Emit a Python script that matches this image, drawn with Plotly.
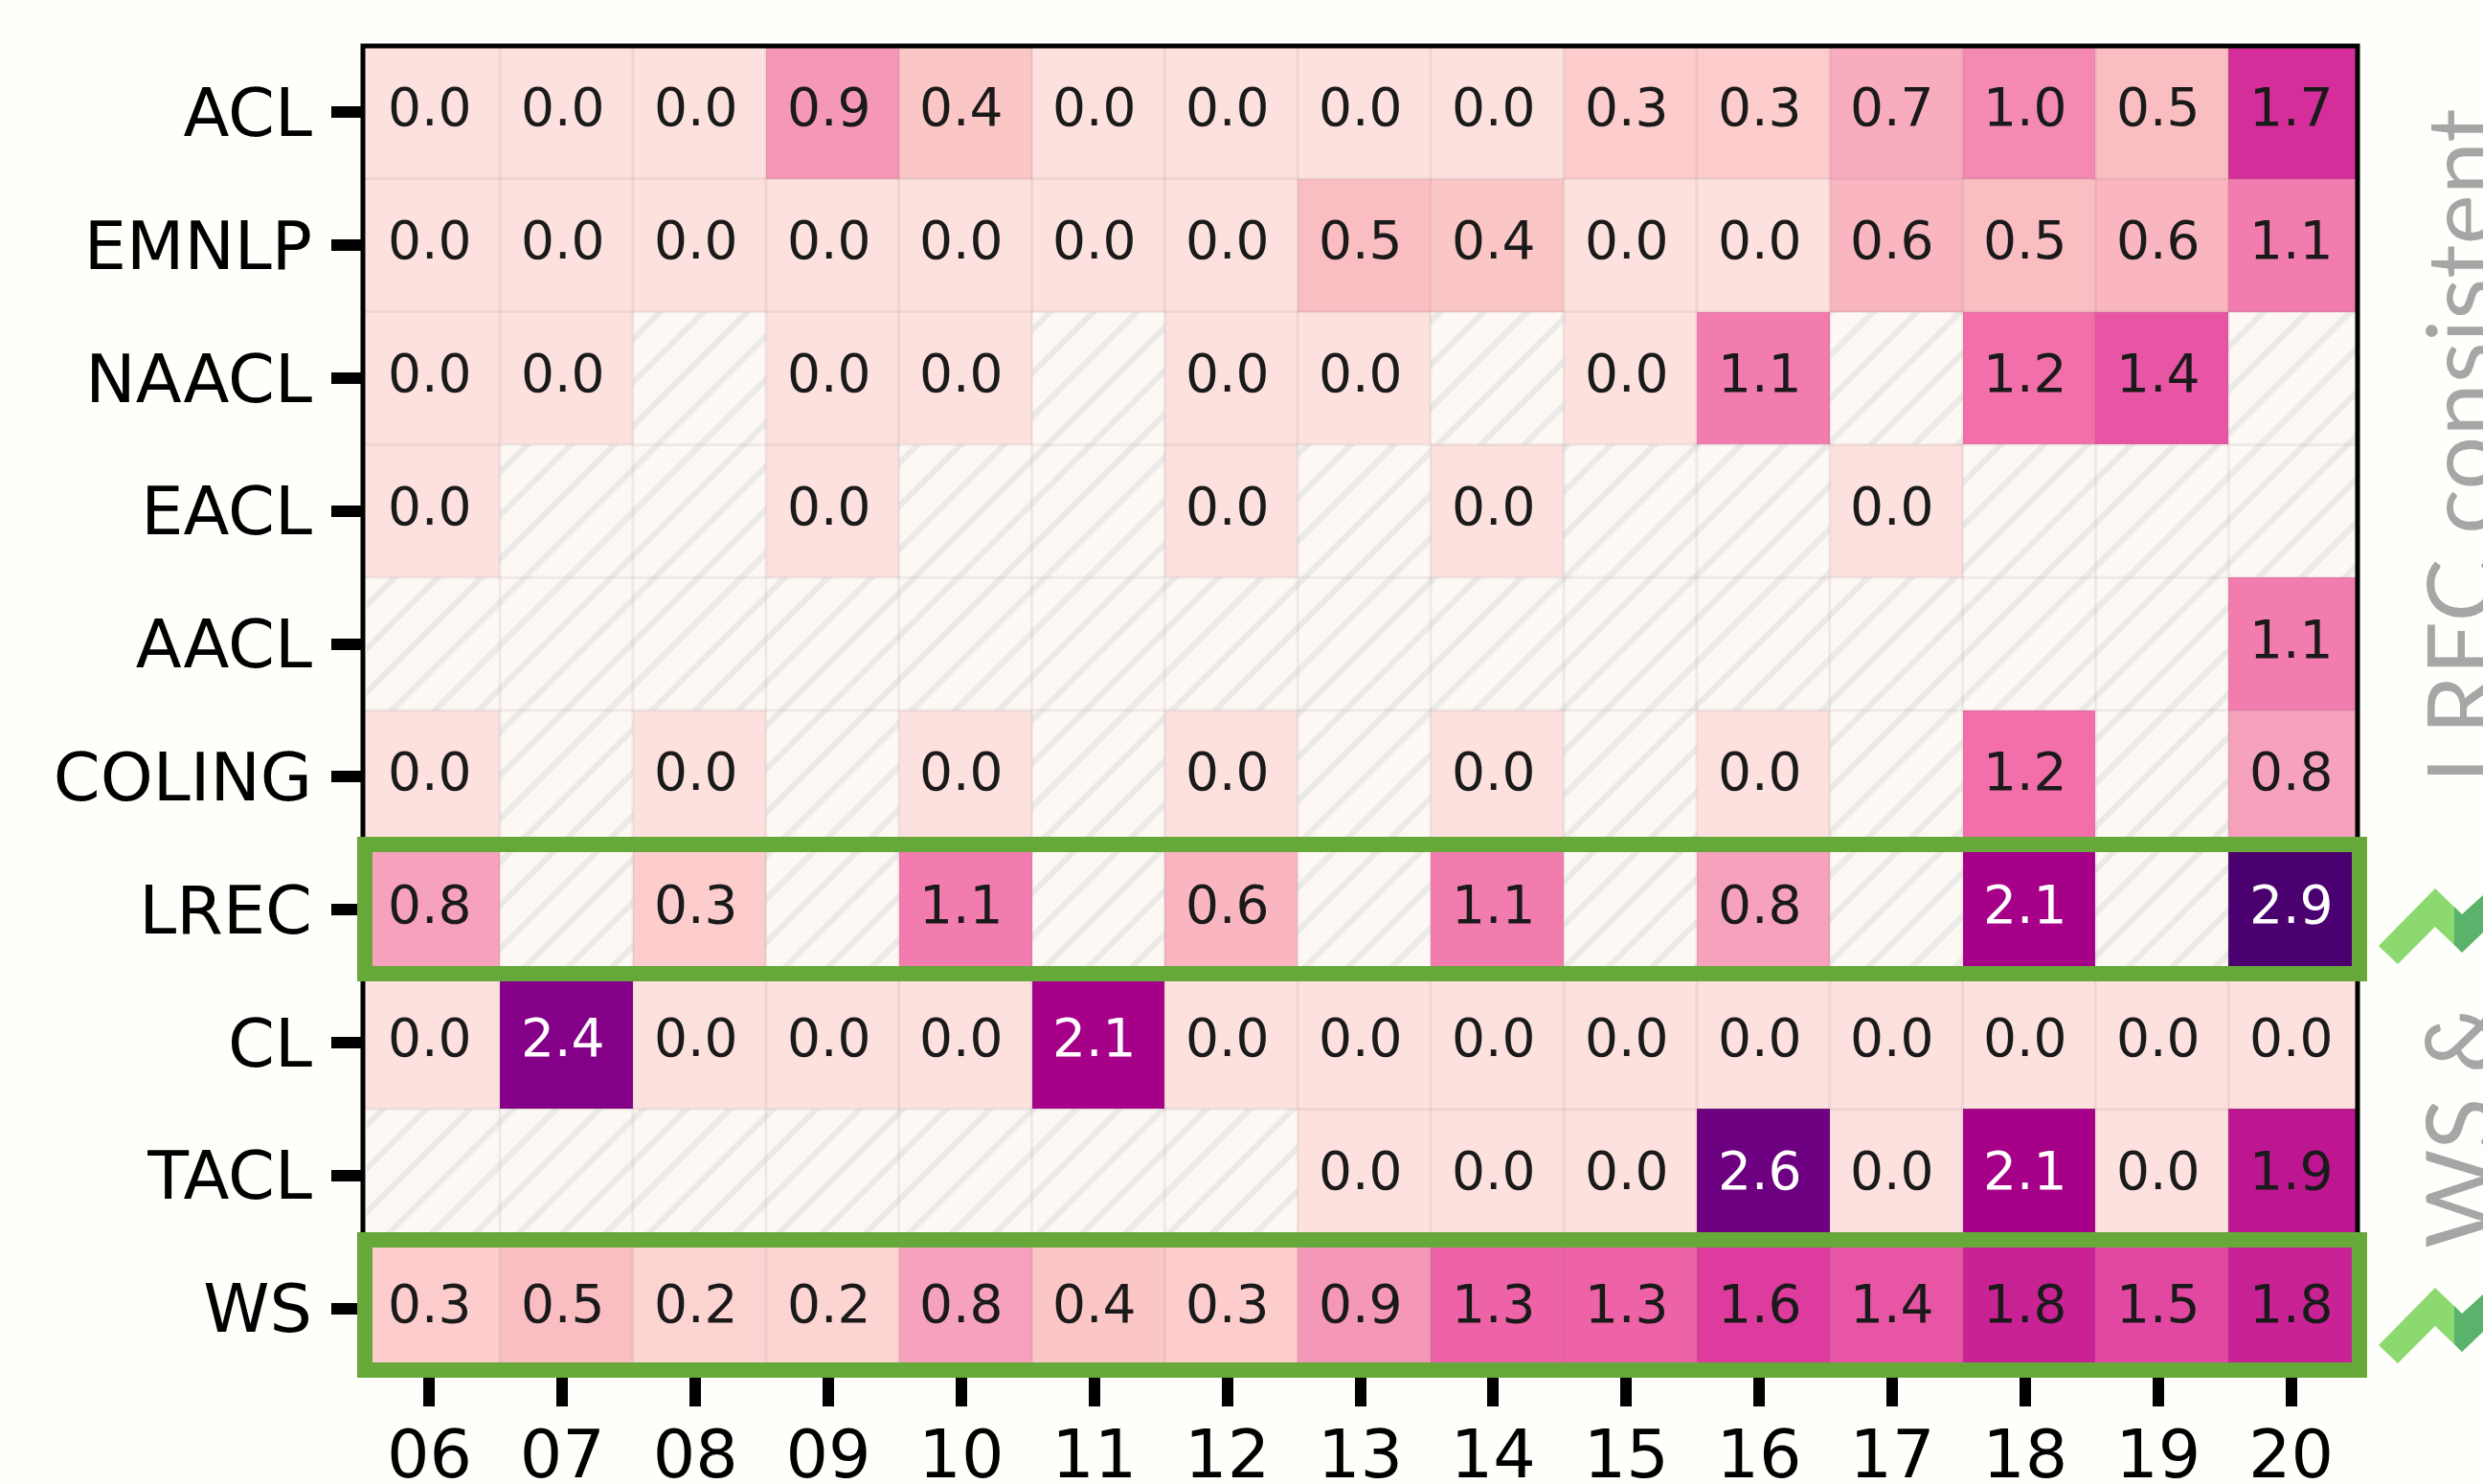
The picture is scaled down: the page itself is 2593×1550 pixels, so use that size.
import plotly.graph_objects as go

W, H = 2593, 1550
L, R, T, B = 379, 2462, 48, 1436
N = None
CELL_SHIFT = 0.03

years = ["06","07","08","09","10","11","12","13","14","15","16","17","18","19","20"]
venues = ["ACL","EMNLP","NAACL","EACL","AACL","COLING","LREC","CL","TACL","WS"]
acl    = [0,0,0,.9,.4,0,0,0,0,.3,.3,.7,1.0,.5,1.7]
emnlp  = [0,0,0,0,0,0,0,.5,.4,0,0,.6,.5,.6,1.1]
naacl  = [0,0,N,0,0,N,0,0,N,0,1.1,N,1.2,1.4,N]
eacl   = [0,N,N,0,N,N,0,N,0,N,N,0,N,N,N]
aacl   = [N,N,N,N,N,N,N,N,N,N,N,N,N,N,1.1]
coling = [0,N,0,N,0,N,0,N,0,N,0,N,1.2,N,.8]
lrec   = [.8,N,.3,N,1.1,N,.6,N,1.1,N,.8,N,2.1,N,2.9]
cl     = [0,2.4,0,0,0,2.1,0,0,0,0,0,0,0,0,0]
tacl   = [N,N,N,N,N,N,N,0,0,0,2.6,0,2.1,0,1.9]
ws     = [.3,.5,.2,.2,.8,.4,.3,.9,1.3,1.3,1.6,1.4,1.8,1.5,1.8]
rows = [acl, emnlp, naacl, eacl, aacl, coling, lrec, cl, tacl, ws]

colorscale = [[0,"#fff7f3"],[.125,"#fde0dd"],[.25,"#fbc5c4"],[.375,"#f69fbb"],[.5,"#f168a8"],
              [.625,"#d9339c"],[.75,"#aa0088"],[.875,"#7a0088"],[1,"#4b0070"]]

def px(x): return (x - L) / (R - L)
def py(y): return 1 - (y - T) / (B - T)

fig = go.Figure()
x_edges = [-0.5] + [i + 0.5 + CELL_SHIFT for i in range(14)] + [14.5]
y_edges = [i - 0.5 for i in range(11)]
fig.add_trace(go.Heatmap(z=rows, x=x_edges, y=y_edges, colorscale=colorscale,
                         zmin=-0.4, zmax=2.9, showscale=False, hoverongaps=False))

mx, my = [], []
for r, row in enumerate(rows):
    for c, v in enumerate(row):
        if v is None:
            mx.append(c + CELL_SHIFT); my.append(r - 0.5)
fig.add_trace(go.Bar(x=mx, y=[1]*len(mx), base=my, width=1, showlegend=False, hoverinfo="skip",
                     marker=dict(color="#fff8f5", line=dict(width=0),
                                 pattern=dict(shape="/", fgcolor="#d9dcda", bgcolor="#fef8f4", size=32, solidity=0.2))))

shapes = []
for i in range(1, 15):
    shapes.append(dict(type="line", xref="x", yref="paper", x0=i-.5+CELL_SHIFT, x1=i-.5+CELL_SHIFT, y0=0, y1=1,
                       line=dict(color="rgba(120,120,120,0.10)", width=3)))
for i in range(1, 10):
    shapes.append(dict(type="line", xref="paper", yref="y", x0=0, x1=1, y0=i-.5, y1=i-.5,
                       line=dict(color="rgba(120,120,120,0.10)", width=3)))
shapes.append(dict(type="rect", xref="paper", yref="paper", x0=0, x1=1, y0=0, y1=1,
                   line=dict(color="#000000", width=5)))

GREEN = "#66a83a"
for top, bot in [(882, 1017), (1295, 1431)]:
    shapes.append(dict(type="rect", xref="paper", yref="paper", x0=px(381), x1=px(2464), y0=py(top), y1=py(bot),
                       line=dict(color=GREEN, width=16)))

def poly(pts, color):
    d = "M" + " L".join(f"{px(x):.5f},{py(y):.5f}" for x, y in pts) + " Z"
    return dict(type="path", xref="paper", yref="paper", path=d, fillcolor=color, line=dict(width=0), layer="above")

for dy in (0, 417):
    shapes.append(poly([(2484,988+dy),(2543,928+dy),(2571,955+dy),(2563,947+dy),(2563,987+dy),(2543,968+dy),(2504,1007+dy)], "#8cd96f"))
    shapes.append(poly([(2563,947+dy),(2571,955+dy),(2593,935+dy),(2593,974+dy),(2571,995+dy),(2563,987+dy)], "#5ab26b"))

ann = []
for r, row in enumerate(rows):
    for c, v in enumerate(row):
        if v is not None:
            ann.append(dict(x=c, y=r, xref="x", yref="y", text=f"{v:.1f}", showarrow=False, yshift=5,
                            font=dict(family="DejaVu Sans", size=55, color="#ffffff" if v >= 2 else "#1a1a1a")))
for text, ycenter, size in [("LREC consistent", 466, 99), ("WS &", 1177, 100)]:
    ann.append(dict(x=px(2567), y=py(ycenter), xref="paper", yref="paper", text=text, textangle=-90, showarrow=False,
                    xanchor="center", yanchor="middle",
                    font=dict(family="Lato", size=size, color="#a6a6a6")))

axis_common = dict(tickmode="array", ticks="outside", ticklen=32, tickwidth=12, tickcolor="#000000",
                   showgrid=False, zeroline=False, automargin=False, tickfont=dict(size=70))
fig.update_layout(
    width=W, height=H, margin=dict(l=L, r=W-R, t=T, b=H-B, pad=0),
    paper_bgcolor="#fefffa", plot_bgcolor="#fef8f4", bargap=0, showlegend=False,
    shapes=shapes, annotations=ann,
    font=dict(family="DejaVu Sans", color="#000000"),
    xaxis=dict(tickvals=list(range(15)), ticktext=years, range=[-.5, 14.5], ticklabelstandoff=-10, **axis_common),
    yaxis=dict(tickvals=list(range(10)), ticktext=venues, range=[9.5, -.5], ticklabelstandoff=6, **axis_common),
)
fig.write_html("out.html", config=dict(displayModeBar=False),
               post_script="document.body.style.margin='0';document.body.style.overflow='hidden';document.body.style.background='#fefffa';")
